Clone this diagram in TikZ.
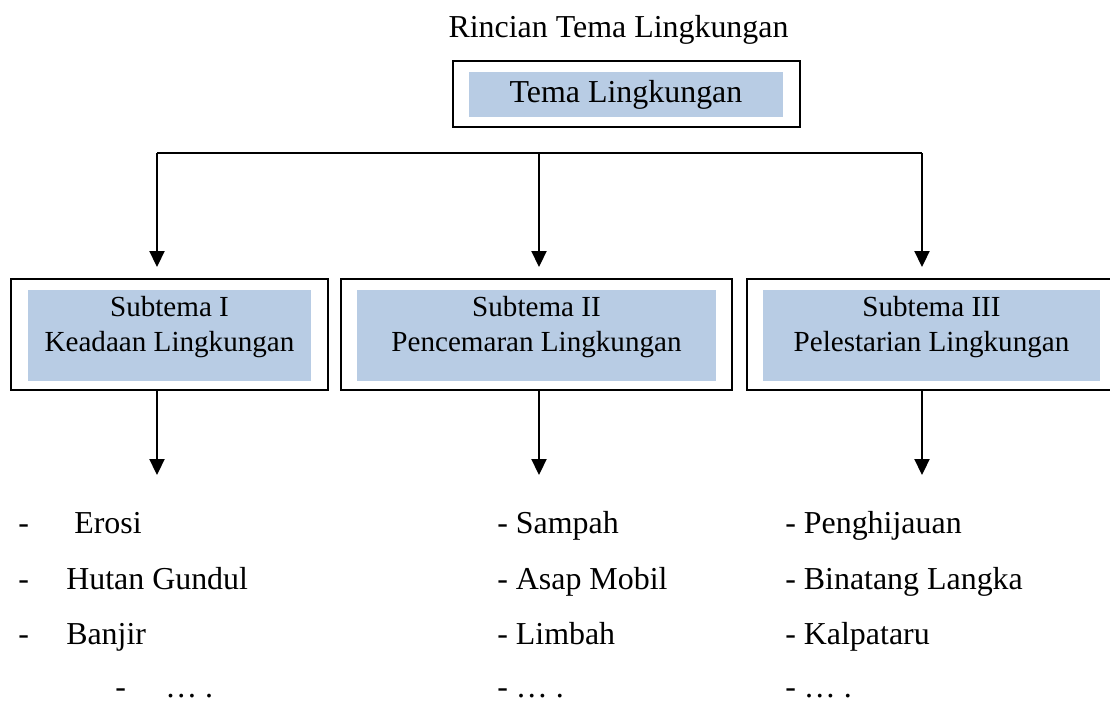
\documentclass[tikz,border=0pt]{standalone}
\usepackage{fontspec}
\setmainfont{Liberation Serif}
\usepackage{xcolor}
\usepackage{tikz}
\usetikzlibrary{arrows.meta,positioning,calc}
\definecolor{subblue}{HTML}{B8CCE4}

\begin{document}
\begin{tikzpicture}[x=0.025cm,y=-0.025cm,
  frame/.style={draw=black, line width=1.4pt, inner sep=0},
  fillbox/.style={fill=subblue, inner sep=0, align=center},
  arr/.style={-{Triangle[length=0.4cm,width=0.38cm]}, line width=1pt},
  item/.style={anchor=base west, inner sep=0, font=\fontsize{22.7}{27}\selectfont}]

\useasboundingbox (0,0) rectangle (1110,704);

% Title
\node[font=\fontsize{22.7}{27}\selectfont, anchor=base] (title) at (618.5,37) {Rincian Tema Lingkungan};

% Main theme box
\node[fillbox, minimum width=7.85cm, minimum height=1.125cm, font=\fontsize{22.7}{27}\selectfont] (temain) at (626,94.5) {Tema Lingkungan};
\node[frame, minimum width=8.675cm, minimum height=1.65cm] (tema) at (626.5,94) {};

% Subtheme boxes
\foreach \n/\cx/\wo/\wi/\ta/\tb in {1/169.5/7.925/7.075/Subtema I/Keadaan Lingkungan,
    2/536.5/9.775/8.95/Subtema II/Pencemaran Lingkungan,
    3/931.5/9.225/8.4/Subtema III/Pelestarian Lingkungan} {
    \node[fillbox, minimum width=\wi cm, minimum height=2.275cm] (in\n) at (\cx,335.5) {};
    \node[font=\fontsize{20.7}{24.9}\selectfont, align=center, inner sep=0] (txt\n) at ([yshift=0.2cm]in\n.center) {\ta\\\tb};
    \node[frame, minimum width=\wo cm, minimum height=2.775cm] (sub\n) at (\cx,334.5) {};
}

% Branch line and arrows to subthemes
\coordinate (j1) at (157,153);
\coordinate (j2) at (539,153);
\coordinate (j3) at (922,153);
\draw[line width=1pt] (j1) -- (j3);
\foreach \n in {1,2,3} {
    \draw[arr, shorten >=0.275cm] (j\n) -- (j\n |- sub\n.north);
}

% Arrows down to the lists
\coordinate (t1) at (157,475);
\coordinate (t2) at (539,475);
\coordinate (t3) at (922,475);
\foreach \n in {1,2,3} {
    \draw[arr] (t\n |- sub\n.south) -- (t\n);
}

% List for Subtema I
\foreach \x/\y/\txt [count=\i] in {74/533/Erosi, 66/589/Hutan Gundul, 66/644/Banjir} {
    \node[item] (da\i) at (18,\y) {-};
    \node[item] (a\i) at (\x,\y) {\txt};
}
\node[item] (da4) at (115,697) {-};
\node[item] (a4) at (165,697) {… .};

% List for Subtema II
\foreach \y/\txt [count=\i] in {533/Sampah, 589/Asap Mobil, 644/Limbah, 697/… .} {
    \node[item] (b\i) at (497,\y) {- \txt};
}

% List for Subtema III
\foreach \y/\txt [count=\i] in {533/Penghijauan, 589/Binatang Langka, 644/Kalpataru, 697/… .} {
    \node[item] (c\i) at (785,\y) {- \txt};
}

\end{tikzpicture}
\end{document}
